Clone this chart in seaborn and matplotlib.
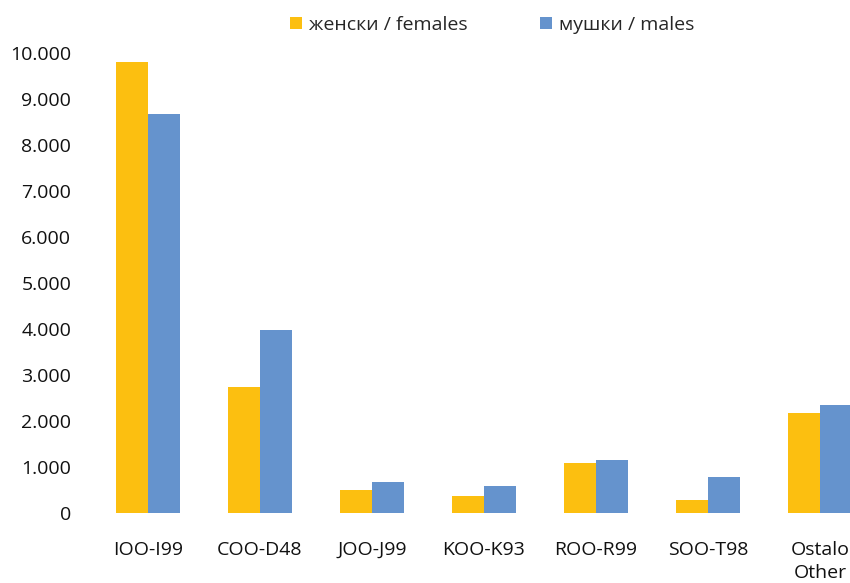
import matplotlib
matplotlib.use("Agg")
import matplotlib.pyplot as plt
import seaborn as sns
import pandas as pd
from matplotlib.ticker import FuncFormatter
from matplotlib.patches import Patch

categories = ["IOO-I99", "COO-D48", "JOO-J99", "KOO-K93", "ROO-R99", "SOO-T98", "Ostalo\nOther"]
females = [9800, 2740, 500, 370, 1090, 280, 2170]
males = [8670, 3980, 670, 590, 1150, 780, 2350]
series_names = ["женски / females", "мушки / males"]
colors = ["#FCBF10", "#6593CD"]

df = pd.DataFrame({
    "cat": categories * 2,
    "val": females + males,
    "sex": [series_names[0]] * len(categories) + [series_names[1]] * len(categories),
})

sns.set_style("white")
plt.rcParams["font.family"] = ["Open Sans", "DejaVu Sans"]

fig = plt.figure(figsize=(8.5, 5.83), dpi=100)
ax = fig.add_axes([92 / 850, (583 - 513) / 583, (876 - 92) / 850, (513 - 53) / 583])
sns.barplot(data=df, x="cat", y="val", hue="sex", palette=colors, width=64 / 112,
            gap=0, saturation=1, ax=ax, legend=False, linewidth=0)
ax.set_ylim(0, 10000)
ax.set_yticks(range(0, 10001, 1000))
ax.yaxis.set_major_formatter(FuncFormatter(lambda v, p: f"{int(v):,}".replace(",", ".")))
for s in ax.spines.values():
    s.set_visible(False)
ax.set_xlabel("")
ax.set_ylabel("")
ax.tick_params(axis="both", length=0, labelsize=14, colors="#111111")
ax.tick_params(axis="y", pad=15)
ax.tick_params(axis="x", pad=20)
for lbl in ax.get_xticklabels():
    lbl.set_linespacing(1.35)
ax.set_xlim(-0.5, len(categories) - 0.5)

handles = [Patch(facecolor=c, edgecolor="none") for c in colors]
fig.legend(handles, series_names, loc="center", bbox_to_anchor=(492 / 850, 1 - 25 / 583), ncol=2,
           frameon=False, fontsize=14, handlelength=0.6, handleheight=0.6,
           handletextpad=0.35, columnspacing=3.75)

fig.savefig("out.png", dpi=100)
